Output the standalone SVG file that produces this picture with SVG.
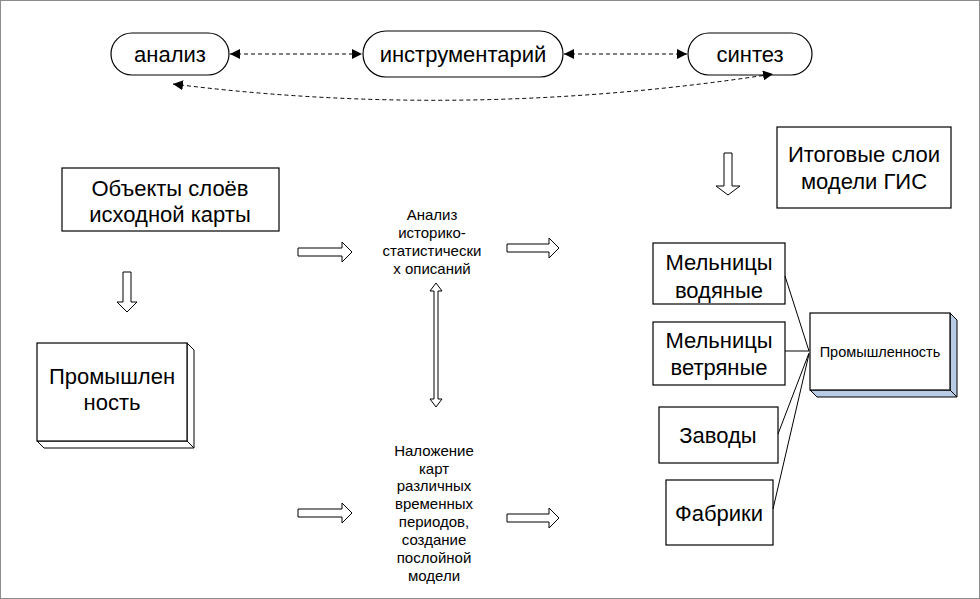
<svg xmlns="http://www.w3.org/2000/svg" width="980" height="599" viewBox="0 0 980 599">
  <style>
    text { font-family: "Liberation Sans", Arial, sans-serif; fill: #000; text-anchor: middle; }
    .big { font-size: 22px; }
    .mid { font-size: 22px; }
    .small { font-size: 15px; }
    .box { fill: #fff; stroke: #000; stroke-width: 1.2; }
    .side { fill: #fff; stroke: #000; stroke-width: 1; }
    .blue { fill: #b8cce4; stroke: #000; stroke-width: 1; }
    .block { fill: #fff; stroke: #000; stroke-width: 1; stroke-linejoin: miter; }
    .dash { fill: none; stroke: #000; stroke-width: 1; stroke-dasharray: 4 3; }
    .link { fill: none; stroke: #000; stroke-width: 1; }
  </style>
  <defs>
    <marker id="tip" viewBox="0 0 10 10" refX="10" refY="5" markerWidth="10" markerHeight="10" markerUnits="userSpaceOnUse" orient="auto-start-reverse">
      <path d="M0,0 L10,5 L0,10 z" fill="#000"/>
    </marker>
  </defs>

  <rect x="0.5" y="0.5" width="979" height="598" fill="#fff" stroke="#8c8c8c" stroke-width="1"/>

  <!-- top row: rounded terminals -->
  <g id="analiz">
    <rect class="box" x="111" y="33" width="118" height="42" rx="21" ry="21"/>
    <text class="mid" x="170" y="62">анализ</text>
  </g>
  <g id="instrumentariy">
    <rect class="box" x="363" y="31" width="200" height="46" rx="23" ry="23"/>
    <text class="mid" x="463" y="62">инструментарий</text>
  </g>
  <g id="sintez">
    <rect class="box" x="688" y="33" width="124" height="42" rx="21" ry="21"/>
    <text class="mid" x="750" y="62">синтез</text>
  </g>

  <!-- left column -->
  <g id="obekty">
    <rect class="box" x="62" y="168" width="217" height="63"/>
    <text class="big" x="170" y="196">Объекты слоёв</text>
    <text class="big" x="170" y="222">исходной карты</text>
  </g>
  <g id="promyshlennost-left">
    <polygon class="side" points="187,343 194,350 194,448 187,441"/>
    <polygon class="side" points="37,441 44,448 194,448 187,441"/>
    <rect class="box" x="37" y="343" width="150" height="98"/>
    <text class="big" x="112" y="384">Промышлен</text>
    <text class="big" x="112" y="410">ность</text>
  </g>

  <!-- middle column -->
  <g id="analiz-opisaniy">
    <text class="small" x="432" y="220">Анализ</text>
    <text class="small" x="432" y="238">историко-</text>
    <text class="small" x="432" y="256">статистически</text>
    <text class="small" x="432" y="274">х описаний</text>
  </g>
  <g id="nalozhenie">
    <text class="small" x="434" y="456">Наложение</text>
    <text class="small" x="434" y="474">карт</text>
    <text class="small" x="434" y="491">различных</text>
    <text class="small" x="434" y="509">временных</text>
    <text class="small" x="434" y="527">периодов,</text>
    <text class="small" x="434" y="545">создание</text>
    <text class="small" x="434" y="563">послойной</text>
    <text class="small" x="434" y="581">модели</text>
  </g>

  <!-- right column -->
  <g id="itogovye">
    <rect class="box" x="777" y="127" width="174" height="81"/>
    <text class="big" x="864" y="162">Итоговые слои</text>
    <text class="big" x="864" y="189">модели ГИС</text>
  </g>
  <g id="melnitsy-vodyanye">
    <rect class="box" x="653" y="243" width="132" height="61"/>
    <text class="big" x="719" y="270">Мельницы</text>
    <text class="big" x="719" y="298">водяные</text>
  </g>
  <g id="melnitsy-vetryanye">
    <rect class="box" x="653" y="322" width="132" height="63"/>
    <text class="big" x="719" y="348">Мельницы</text>
    <text class="big" x="719" y="375">ветряные</text>
  </g>
  <g id="zavody">
    <rect class="box" x="659" y="407" width="119" height="56"/>
    <text class="big" x="718" y="443">Заводы</text>
  </g>
  <g id="fabriki">
    <rect class="box" x="666" y="480" width="107" height="65"/>
    <text class="big" x="719" y="521">Фабрики</text>
  </g>
  <g id="promyshlennost-right">
    <polygon class="blue" points="950,313 957,320 957,397 950,390"/>
    <polygon class="blue" points="810,390 817,397 957,397 950,390"/>
    <rect class="box" x="810" y="313" width="140" height="77"/>
    <text class="small" x="880" y="357" style="font-size:14.5px">Промышленность</text>
  </g>

  <!-- connectors -->
  <g id="connectors">
    <line class="dash" x1="230" y1="54" x2="362" y2="54" marker-start="url(#tip)" marker-end="url(#tip)"/>
    <line class="dash" x1="564" y1="54" x2="687" y2="54" marker-start="url(#tip)" marker-end="url(#tip)"/>
    <path class="dash" d="M173,84 Q467,121 773,74" marker-start="url(#tip)" marker-end="url(#tip)"/>

    <!-- hollow block arrows -->
    <polygon class="block" points="123,272 131,272 131,302 137,302 127,312 117,302 123,302"/>
    <polygon class="block" points="298,248 342,248 342,242 352,252 342,262 342,256 298,256"/>
    <polygon class="block" points="507,244 549,244 549,238 559,248 549,258 549,252 507,252"/>
    <polygon class="block" points="298,509 342,509 342,503 352,513 342,523 342,517 298,517"/>
    <polygon class="block" points="507,514 549,514 549,508 559,518 549,528 549,522 507,522"/>
    <polygon class="block" points="436,283 442,291 438,291 438,399 442,399 436,407 430,399 434,399 434,291 430,291"/>
    <polygon class="block" points="724,153 732,153 732,186 740,186 728,195 716,186 724,186"/>

    <!-- links into the industry layer -->
    <line class="link" x1="785" y1="276" x2="809" y2="351"/>
    <line class="link" x1="785" y1="351" x2="809" y2="351"/>
    <line class="link" x1="778" y1="434" x2="809" y2="353"/>
    <line class="link" x1="773" y1="509" x2="809" y2="354"/>
  </g>
</svg>
